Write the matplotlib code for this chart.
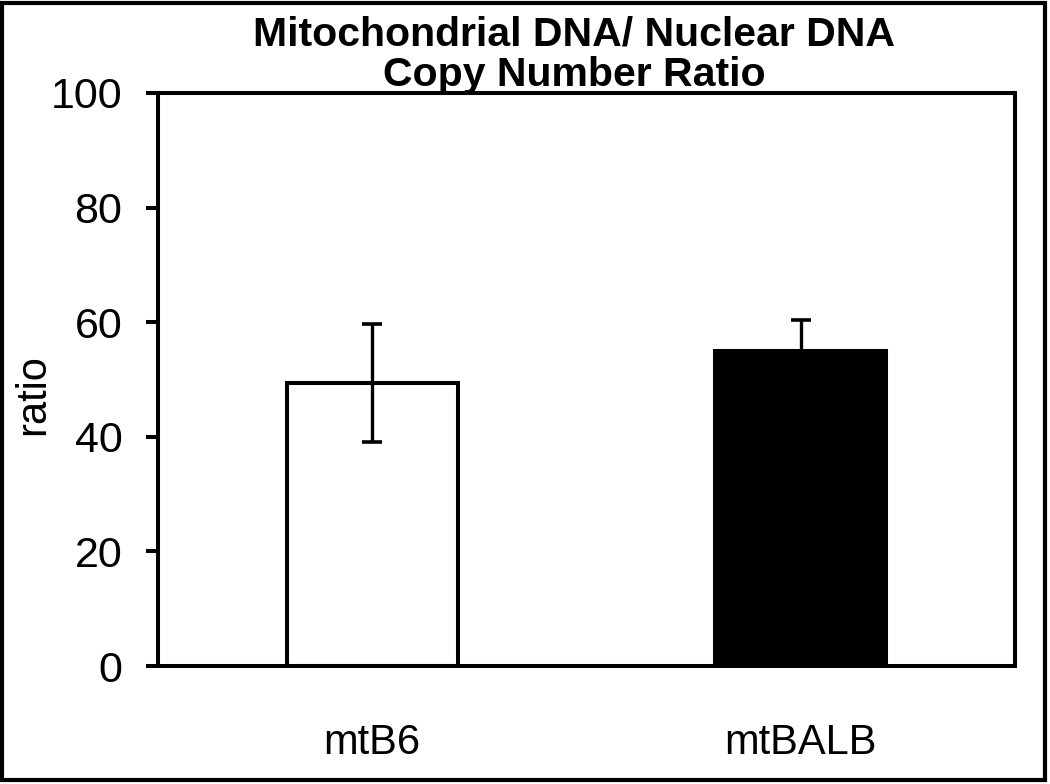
import matplotlib
matplotlib.use("Agg")
import matplotlib.pyplot as plt
from matplotlib.patches import Rectangle

categories = ["mtB6", "mtBALB"]
values = [49.4, 55.0]
errors = [10.3, 5.4]
bar_colors = ["white", "black"]
yticks = [0, 20, 40, 60, 80, 100]
title = "Mitochondrial DNA/ Nuclear DNA\nCopy Number Ratio"
ylabel = "ratio"

plt.rcParams['font.family'] = ['Liberation Sans', 'DejaVu Sans']

fig = plt.figure(figsize=(10.5, 7.84), dpi=100)
ax = fig.add_axes([158/1050, 118/784, (1015-158)/1050, (666-93)/784])

x = list(range(len(categories)))
ax.bar(x, values, width=0.4, color=bar_colors, edgecolor="black", linewidth=2.9, zorder=2)
ax.errorbar(x, values, yerr=errors, fmt="none", ecolor="black", elinewidth=2.4,
            capsize=7, capthick=2.6, zorder=3)

ax.set_xlim(-0.5, 1.5)
ax.set_ylim(0, 100)
ax.set_yticks(yticks)
ax.set_yticklabels([str(t) for t in yticks])
ax.set_xticks(x)
ax.set_xticklabels(categories)
ax.tick_params(axis="y", direction="out", length=8.6, width=2.9, pad=17, labelsize=31)
ax.tick_params(axis="x", length=0, pad=41, labelsize=30)
for s in ax.spines.values():
    s.set_linewidth(2.9)
    s.set_color("black")

ax.set_ylabel(ylabel, fontsize=30)
ax.yaxis.set_label_coords(-0.122, 0.473)

fig.text(574/1050, 1 - 16/784, title, ha="center", va="top", fontsize=29.5,
         fontweight="bold", linespacing=1.08)

fig.add_artist(Rectangle((2/1050, 4/784), (1045-2)/1050, (781-4)/784, transform=fig.transFigure,
                         fill=False, edgecolor="black", linewidth=3))

fig.savefig("out.png", dpi=100)
